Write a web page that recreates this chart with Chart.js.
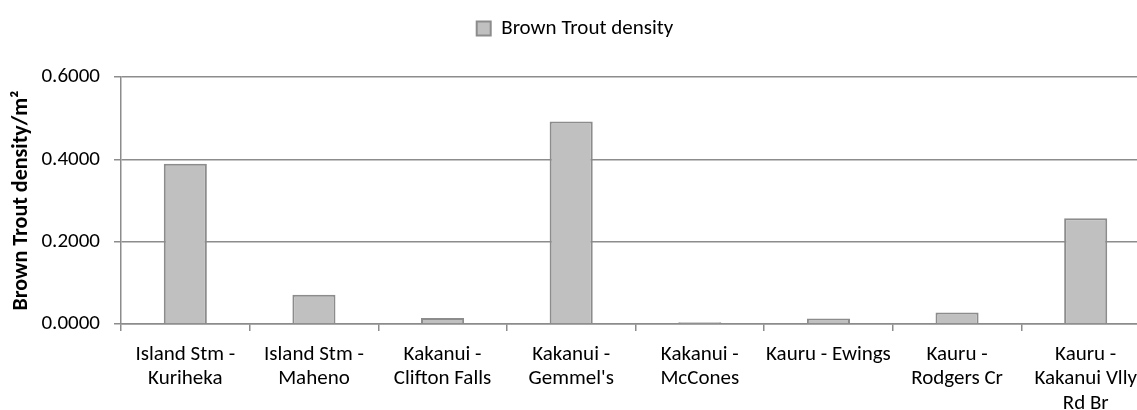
<!DOCTYPE html>
<html>
<head>
<meta charset="utf-8">
<script src="https://cdn.jsdelivr.net/npm/chart.js@4.4.0/dist/chart.umd.min.js"></script>
<style>
  html, body { margin: 0; padding: 0; background: #fff; overflow: hidden; }
  #wrap { width: 1150px; height: 410px; position: relative; }
</style>
</head>
<body>
<div id="wrap"><canvas id="chart"></canvas></div>
<script>
const categories = [
    ['Island Stm -', 'Kuriheka'],
    ['Island Stm -', 'Maheno'],
    ['Kakanui -', 'Clifton Falls'],
    ['Kakanui -', "Gemmel's"],
    ['Kakanui -', 'McCones'],
    ['Kauru - Ewings'],
    ['Kauru -', 'Rodgers Cr'],
    ['Kauru -', 'Kakanui Vlly', 'Rd Br']
];
const densityValues = [0.389, 0.071, 0.0145, 0.492, 0.004, 0.0135, 0.028, 0.257];
const yTicks = [0, 0.2, 0.4, 0.6];

const fontFamily = "Carlito, Lato, 'Open Sans', sans-serif";
const lineColor = '#8c8c8c';

// push the plot area down below the legend
const legendSpacer = {
    id: 'legendSpacer',
    beforeInit(chart) {
        const origFit = chart.legend.fit;
        chart.legend.fit = function () {
            origFit.bind(chart.legend)();
            this.height += 28;
        };
    }
};

const ctx = document.getElementById('chart').getContext('2d');
new Chart(ctx, {
    type: 'bar',
    data: {
        labels: categories,
        datasets: [{
            label: 'Brown Trout density',
            data: densityValues,
            backgroundColor: '#c0c0c0',
            borderColor: '#8c8c8c',
            borderWidth: 2,
            barPercentage: 0.335,
            categoryPercentage: 1
        }]
    },
    plugins: [legendSpacer],
    options: {
        responsive: true,
        maintainAspectRatio: false,
        animation: false,
        layout: { padding: { top: 0, left: 0, right: 0, bottom: 0 } },
        plugins: {
            legend: {
                position: 'top',
                labels: {
                    color: '#000',
                    font: { family: fontFamily, size: 21 },
                    boxWidth: 14,
                    boxHeight: 14,
                    padding: 18
                }
            },
            tooltip: { enabled: false }
        },
        scales: {
            x: {
                grid: {
                    drawOnChartArea: false,
                    drawTicks: true,
                    tickLength: 7,
                    color: lineColor,
                    lineWidth: 1.5
                },
                border: { color: lineColor, width: 1.5 },
                ticks: {
                    color: '#000',
                    font: { family: fontFamily, size: 21, lineHeight: 1.15 },
                    padding: 12,
                    maxRotation: 0,
                    autoSkip: false
                },
                afterFit: scale => { scale.height = 86; }
            },
            y: {
                min: 0,
                max: 0.6,
                afterBuildTicks: scale => { scale.ticks = yTicks.map(v => ({ value: v })); },
                grid: {
                    color: lineColor,
                    lineWidth: 1.5,
                    tickLength: 7
                },
                border: { color: lineColor, width: 1.5 },
                ticks: {
                    color: '#000',
                    font: { family: fontFamily, size: 21 },
                    padding: 14,
                    callback: v => v.toFixed(4)
                },
                title: {
                    display: true,
                    text: 'Brown Trout density/m²',
                    color: '#000',
                    font: { family: fontFamily, size: 22, weight: 'bold' },
                    padding: { top: 8, bottom: 4 }
                },
                afterFit: scale => { scale.width = 121; }
            }
        }
    }
});
</script>
</body>
</html>
